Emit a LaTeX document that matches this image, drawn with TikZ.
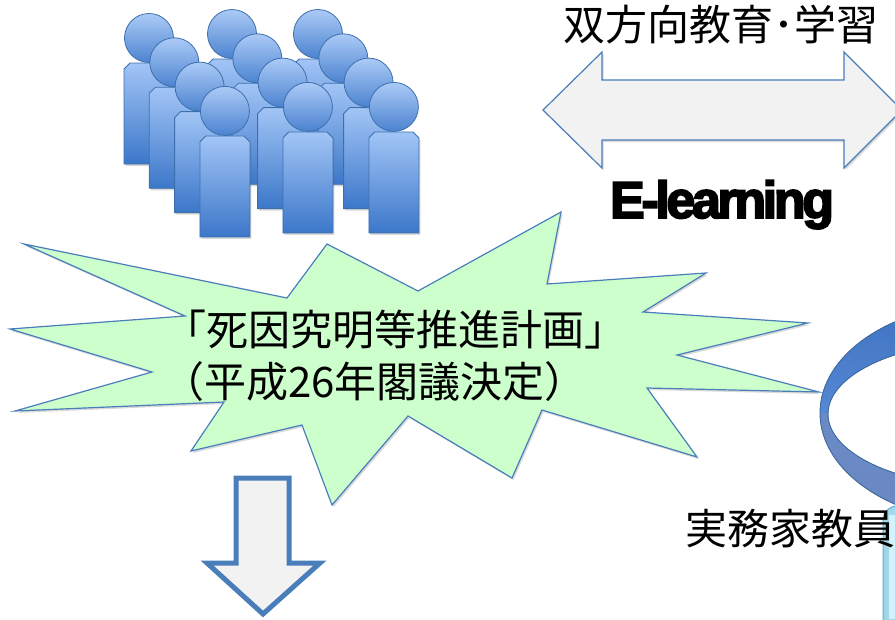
\documentclass[tikz,border=0pt]{standalone}
\usepackage{fontspec}
\newfontfamily\jpfont{Noto Sans CJK JP}
\newfontfamily\elfont{Liberation Sans}[LetterSpace=-6.5, BoldFeatures={FakeBold=3.5}]
\usetikzlibrary{shadows}
\definecolor{edgeblue}{HTML}{4A7EBB}
\definecolor{arrowfill}{HTML}{F2F2F2}
\definecolor{burst}{HTML}{CCFFCC}
\definecolor{persontop}{HTML}{A2C5F6}
\definecolor{personbot}{HTML}{3C77C9}
\definecolor{personedge}{HTML}{3D6FAD}
\definecolor{ringtop}{HTML}{3E73C2}
\definecolor{ringmid}{HTML}{6D9EE4}
\definecolor{ringlow}{HTML}{6A88C3}
\definecolor{panel}{HTML}{D3F2FB}
\definecolor{paneledge}{HTML}{5BB2D0}
\tikzset{
  softshadow/.style={drop shadow={shadow xshift=1.5pt, shadow yshift=-2pt, opacity=0.25, fill=black!60}},
  body/.style={draw=personedge, line width=0.8pt, top color=persontop, bottom color=personbot, softshadow},
  head/.style={draw=personedge, line width=0.8pt, top color=persontop!90!white, bottom color=personbot!85!persontop},
  person/.pic={
    \path[body] (-25,31) -- (-19,25) -- (19,25) -- (25,31) -- (25,126) -- (-25,126) -- cycle;
    \path[head] (0,0) circle[radius=24.5];
  },
  jptext/.style={font=\jpfont\fontsize{42}{50}\selectfont, inner sep=0pt, text=black},
  thinedge/.style={draw=edgeblue, line width=1.2pt, line join=miter},
  outerring/.style={x radius=170, y radius=110},
  innerring/.style={x radius=162, y radius=73},
}
\begin{document}
\begin{tikzpicture}[x=1pt, y=-1pt]
\useasboundingbox (0,0) rectangle (895,619);
\clip (0,0) rectangle (895,619);

% crowd of people: three files, four deep, back rows first
\foreach \row in {0,...,3}
  \foreach \gx/\gy in {149/38, 232/34, 318/34}
    \pic at ({\gx+25.3*\row},{\gy+24.3*\row}) {person};

% two-way arrow
\path[thinedge, fill=arrowfill, softshadow]
  (543,110) -- (602,52) -- (602,80) -- (844,80) -- (844,52) -- (902,110)
  -- (844,168) -- (844,140) -- (602,140) -- (602,168) -- cycle;
\node[jptext, anchor=base] (twoway) at (721,40) {双方向教育･学習};
\node[font=\elfont\bfseries\fontsize{52}{60}\selectfont, inner sep=0pt, anchor=base] (elearn) at (722,218) {E-learning};

% ring band: brighter upper half, duller lower half
\begin{scope}
  \clip (800,0) rectangle (895,413.5);
  \fill[even odd rule, top color=ringtop, bottom color=ringmid]
    (990,413) ellipse[outerring] (990,414) ellipse[innerring];
\end{scope}
\begin{scope}
  \clip (800,413.5) rectangle (895,619);
  \fill[even odd rule, top color=ringlow!80!ringmid, bottom color=ringlow]
    (990,413) ellipse[outerring] (990,414) ellipse[innerring];
\end{scope}
\draw[edgeblue!85!black, line width=0.9pt]
  (990,413) ellipse[outerring] (990,414) ellipse[innerring];

% pale panel at the lower right
\path[draw=paneledge, line width=1pt, left color=paneledge!45!panel, right color=panel, rounded corners=14pt, softshadow]
  (883,700) -- (883,506) -- (960,506) -- (960,700) -- cycle;
\fill[panel] (889,515) rectangle (900,619);
\node[jptext, anchor=base] (staff) at (790,544) {実務家教員};

% explosion burst
\path[thinedge, fill=burst, softshadow]
  (24,244) -- (287,298) -- (327,244) -- (418,291) -- (561,212) -- (547,284)
  -- (706,273) -- (643,312) -- (808,323) -- (677,355) -- (819,392)
  -- (647,388) -- (697,457) -- (542,410) -- (512,478) -- (408,416)
  -- (332,505) -- (302,425) -- (191,451) -- (224,402) -- (15,411)
  -- (152,372) -- (10,329) -- (185,316) -- cycle;
\node[jptext, anchor=base west] (plan) at (164,345) {「死因究明等推進計画」};
\node[jptext, anchor=base west] (cabinet) at (162,397) {（平成26年閣議決定）};

% down arrow
\path[draw=edgeblue, line width=5pt, fill=arrowfill, line join=miter]
  (236,478) -- (289,478) -- (289,563) -- (320,563) -- (263,614)
  -- (207,563) -- (236,563) -- cycle;
\end{tikzpicture}
\end{document}
